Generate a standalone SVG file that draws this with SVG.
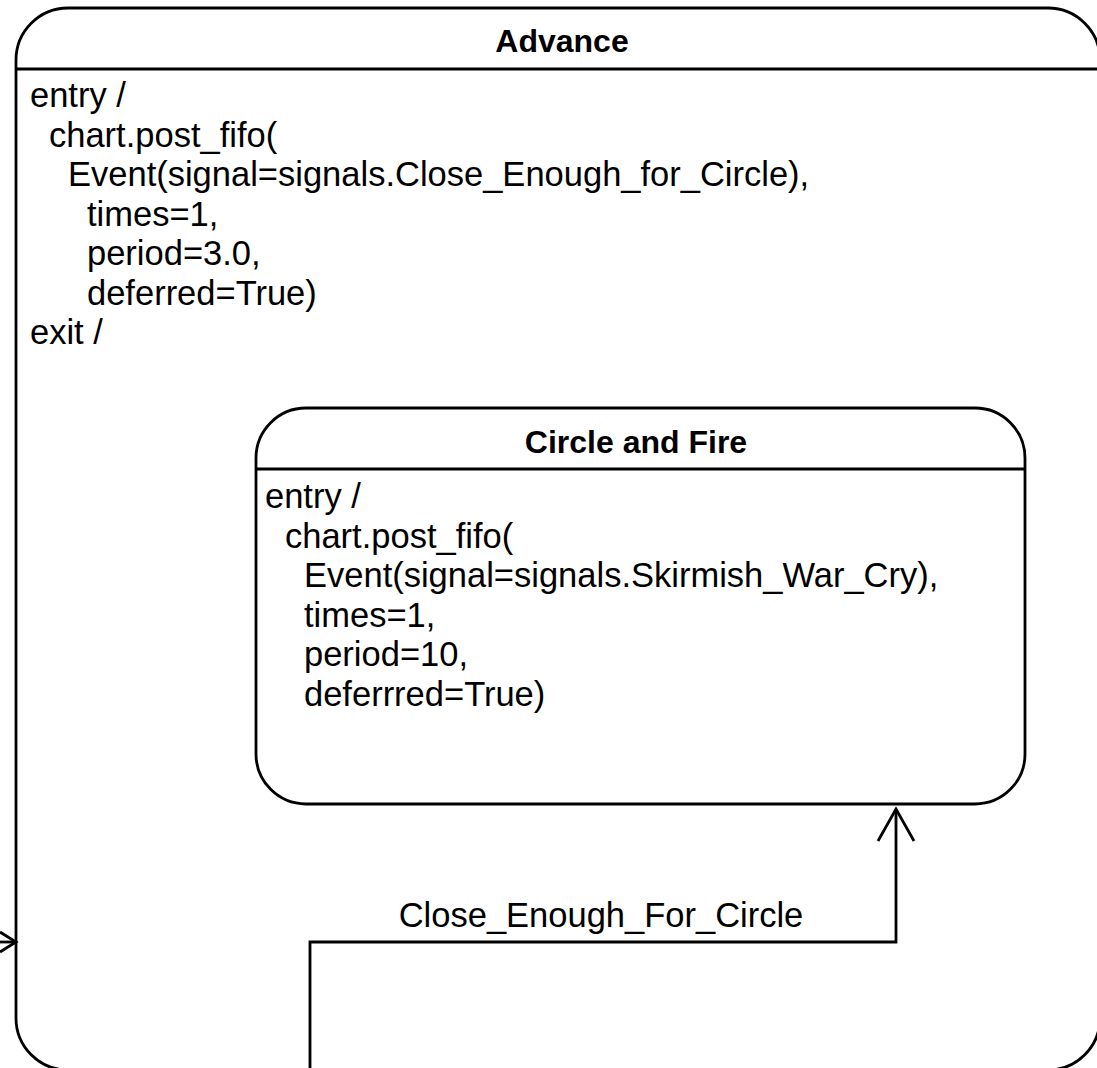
<svg xmlns="http://www.w3.org/2000/svg" width="1097" height="1068" viewBox="0 0 1097 1068">
<style>
.box{fill:#fff;stroke:#000;stroke-width:2.8}
.ln{fill:none;stroke:#000;stroke-width:2.8}
.t{font-family:"Liberation Sans",Arial,sans-serif;font-size:34.5px;fill:#000}
.h{font-family:"Liberation Sans",Arial,sans-serif;font-size:32px;font-weight:bold;fill:#000;text-anchor:middle}
</style>
<rect width="1097" height="1068" fill="#fff"/>
<g id="advance">
<rect class="box" x="16" y="8" width="1084" height="1062" rx="52" ry="52"/>
<line class="ln" x1="16" y1="69" x2="1100" y2="69"/>
<text class="h" x="562" y="52">Advance</text>
<text class="t" x="30" y="107">entry /</text>
<text class="t" x="49" y="146.5">chart.post_fifo(</text>
<text class="t" x="68" y="186">Event(signal=signals.Close_Enough_for_Circle),</text>
<text class="t" x="87" y="225.5">times=1,</text>
<text class="t" x="87" y="265">period=3.0,</text>
<text class="t" x="87" y="304.5">deferred=True)</text>
<text class="t" x="30" y="344">exit /</text>
</g>
<g id="circle_and_fire">
<rect class="box" x="256" y="408" width="769" height="396" rx="50" ry="50"/>
<line class="ln" x1="256" y1="469" x2="1025" y2="469"/>
<text class="h" x="636" y="453">Circle and Fire</text>
<text class="t" x="265" y="508">entry /</text>
<text class="t" x="285" y="547.5">chart.post_fifo(</text>
<text class="t" x="304" y="587">Event(signal=signals.Skirmish_War_Cry),</text>
<text class="t" x="304" y="626.5">times=1,</text>
<text class="t" x="304" y="666">period=10,</text>
<text class="t" x="304" y="705.5">deferrred=True)</text>
</g>
<g id="connectors">
<line class="ln" x1="-5" y1="942" x2="16" y2="942"/>
<polyline class="ln" points="0,932 16,942 0,952"/>
<polyline class="ln" points="310,1075 310,942 896,942 896,809"/>
<polyline class="ln" points="878,841 896,809 914,841"/>
<text class="t" x="601" y="927" text-anchor="middle">Close_Enough_For_Circle</text>
</g>
</svg>
